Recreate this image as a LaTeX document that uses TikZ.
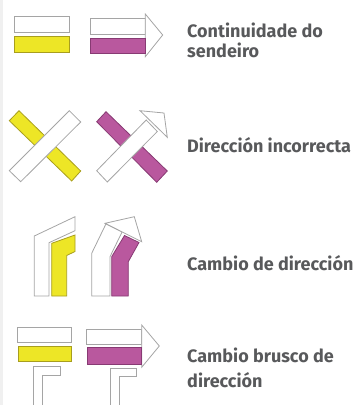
\documentclass[tikz,border=0pt]{standalone}
\usepackage{fontspec}
\setmainfont{Fira Sans}
\usepackage{xcolor}

\definecolor{jaune}{RGB}{237,230,38}
\definecolor{jauneBord}{RGB}{168,158,30}
\definecolor{violet}{RGB}{185,88,158}
\definecolor{violetBord}{RGB}{135,58,115}
\definecolor{trait}{RGB}{165,165,165}
\definecolor{texte}{RGB}{88,89,91}
\definecolor{bande}{RGB}{240,240,240}

\begin{document}
\begin{tikzpicture}[x=1pt, y=-1pt,
  blanc/.style={draw=trait, fill=white, line width=0.8pt},
  jaunebox/.style={draw=jauneBord, fill=jaune, line width=0.8pt},
  violetbox/.style={draw=violetBord, fill=violet, line width=0.8pt},
  legende/.style={anchor=base west, inner sep=0pt, text=texte,
    font=\fontsize{18}{20}\selectfont\bfseries}]

  \useasboundingbox (0,0) rectangle (357,405);

  % Bande grise à gauche
  \fill[bande] (0,0) rectangle (3,405);

  % Continuité du sentier
  \draw[blanc] (14,16) rectangle (69,32);
  \draw[jaunebox] (14,36) rectangle (69,52);
  \draw[blanc] (90,18) rectangle (145,34);
  \draw[blanc] (145.3,14) -- (162.7,35) -- (145.3,56.7) -- cycle;
  \draw[violetbox] (90,38) rectangle (145,53);

  % Mauvaise direction
  \draw[jaunebox] (9.3,120.7) -- (19,110.7) -- (80.7,171) -- (71.7,181) -- cycle;
  \draw[blanc] (9.3,170.7) -- (69.3,110.7) -- (80.7,122) -- (20.7,181.7) -- cycle;
  \draw[violetbox] (96.7,121.7) -- (106,111.7) -- (167.3,171) -- (156.7,182.3) -- cycle;
  \draw[blanc] (96.7,170.7) -- (146.2,120) -- (157.3,131.5) -- (107.3,182) -- cycle;
  \draw[blanc] (140,110.7) -- (164,113) -- (167.3,137.3) -- cycle;

  % Changement de direction
  \draw[blanc] (34.3,296) -- (34.3,236) -- (75,216.7) -- (75,230.7)
    -- (49,242.7) -- (49,296) -- cycle;
  \draw[jaunebox] (51.7,296) -- (51.7,243.3) -- (75,235) -- (75,251.5)
    -- (66.7,255.5) -- (66.7,296) -- cycle;
  \draw[blanc] (91.7,296) -- (91.7,253.3) -- (106,223.8) -- (122.1,231.9)
    -- (110,256.7) -- (110,296) -- cycle;
  \draw[blanc] (105,223.3) -- (134.3,216.7) -- (141.7,241.7) -- cycle;
  \draw[violetbox] (111.7,296) -- (111.7,256.7) -- (124.5,235.5) -- (139,242.5)
    -- (128.3,261.7) -- (128.3,296) -- cycle;

  % Changement brusque de direction
  \draw[blanc] (17.7,327.3) rectangle (71,342.3);
  \draw[jaunebox] (18.3,346) rectangle (71.3,361.7);
  \draw[blanc] (86.7,329) rectangle (141.7,344.3);
  \draw[blanc] (141.7,325) -- (159.3,346) -- (141.7,367.3) -- cycle;
  \draw[violetbox] (87.3,347.7) rectangle (141.7,364);
  \foreach \x/\y in {33.3/366.7, 110/368.3} {
    \draw[trait, line width=0.8pt] (\x,405) -- (\x,\y) -- ++(26.7,0) -- ++(0,8.4)
      -- ++(-17.7,0) -- (\x+9,405);
  }

  % Les légendes
  \foreach \n/\y/\t in {legCont/37/Continuidade do, legSent/57/sendeiro,
      legDir/152/Dirección incorrecta, legCamb/270/Cambio de dirección,
      legBrus/362/Cambio brusco de, legDirB/387/dirección} {
    \node[legende] (\n) at (187,\y) {\t};
  }
\end{tikzpicture}
\end{document}
